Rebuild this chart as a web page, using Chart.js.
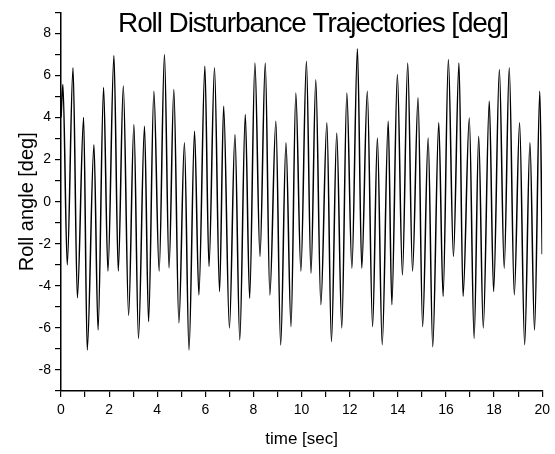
<!DOCTYPE html>
<html>
<head>
<meta charset="utf-8">
<script src="https://cdn.jsdelivr.net/npm/chart.js@4"></script>
<style>
  html, body { margin: 0; padding: 0; background: #ffffff; }
  #c { display: block; }
</style>
</head>
<body>
<canvas id="c" width="555" height="454"></canvas>
<script>
const chartTitle = "Roll Disturbance Trajectories [deg]";
const xAxisTitle = "time [sec]";
const yAxisTitle = "Roll angle [deg]";

const xTickValues = [0, 2, 4, 6, 8, 10, 12, 14, 16, 18, 20];
const yTickValues = [-8, -6, -4, -2, 0, 2, 4, 6, 8];

const timeSec = [0, 0.08, 0.26, 0.50, 0.68, 0.94, 1.09, 1.37, 1.54, 1.77, 1.95,
  2.20, 2.38, 2.59, 2.81, 3.03, 3.22, 3.47, 3.64, 3.86, 4.08,
  4.30, 4.49, 4.69, 4.90, 5.13, 5.32, 5.55, 5.73, 5.98, 6.15,
  6.38, 6.59, 6.76, 7.00, 7.23, 7.43, 7.66, 7.84, 8.06, 8.27,
  8.49, 8.68, 8.93, 9.13, 9.35, 9.56, 9.76, 9.97, 10.20, 10.39,
  10.59, 10.80, 11.05, 11.24, 11.46, 11.67, 11.88, 12.09, 12.32, 12.50,
  12.73, 12.95, 13.15, 13.35, 13.60, 13.75, 13.98, 14.19, 14.41, 14.61,
  14.84, 15.03, 15.26, 15.45, 15.70, 15.88, 16.10, 16.31, 16.54, 16.71,
  16.97, 17.17, 17.36, 17.55, 17.80, 17.98, 18.22, 18.42, 18.63, 18.84,
  19.06, 19.27, 19.49, 19.68, 19.90, 20.0];

const rollDeg = [4.0, 5.57, -3.0, 6.37, -4.57, 4.0, -7.05, 2.71, -6.1, 5.43, -3.3,
  6.95, -3.3, 5.5, -5.4, 3.67, -6.5, 3.59, -5.7, 5.25, -3.3,
  7.0, -3.15, 5.33, -5.76, 2.8, -7.05, 3.35, -4.43, 6.44, -3.08,
  6.37, -4.27, 4.54, -6.0, 3.19, -6.57, 4.14, -4.59, 6.6, -2.6,
  6.6, -4.43, 3.82, -6.81, 2.8, -5.94, 5.17, -3.3, 6.68, -3.4,
  5.8, -4.9, 3.75, -6.65, 3.27, -6.0, 5.17, -3.16, 7.27, -3.16,
  5.25, -5.94, 3.03, -6.8, 3.82, -4.9, 6.05, -3.48, 6.6, -3.3,
  4.94, -5.94, 3.03, -6.9, 3.75, -4.5, 6.76, -2.6, 6.6, -4.5,
  3.98, -6.5, 3.11, -6.0, 4.78, -4.27, 6.29, -3.16, 6.37, -4.43,
  3.75, -6.8, 2.8, -6.1, 5.25, -2.5];

const points = timeSec.map((t, i) => ({ x: t, y: rollDeg[i] }));
const FONT = '"Liberation Sans", Arial, Helvetica, sans-serif';

const titlePlugin = {
  id: 'customTitle',
  afterDraw(chart) {
    const ctx = chart.ctx;
    ctx.save();
    ctx.font = '28px ' + FONT;
    try { ctx.letterSpacing = '-1.1px'; } catch (e) {}
    ctx.fillStyle = '#000';
    ctx.textAlign = 'center';
    ctx.textBaseline = 'alphabetic';
    ctx.fillText(chartTitle, 313, 32);
    ctx.restore();
  }
};

new Chart(document.getElementById('c'), {
  type: 'line',
  data: {
    datasets: [{
      data: points,
      borderColor: '#000000',
      borderWidth: 1.5,
      pointRadius: 0,
      fill: false,
      cubicInterpolationMode: 'monotone'
    }]
  },
  options: {
    responsive: false,
    animation: false,
    devicePixelRatio: 1,
    layout: { padding: { top: 12, right: 12, left: 0, bottom: 0 } },
    plugins: { legend: { display: false }, tooltip: { enabled: false }, title: { display: false } },
    scales: {
      x: {
        type: 'linear',
        min: 0, max: 20,
        afterFit(scale) { scale.height = 63; },
        border: { display: true, color: '#000', width: 1.5 },
        grid: { drawOnChartArea: false, drawTicks: true, tickLength: 6, color: '#000', lineWidth: 1.2 },
        ticks: {
          stepSize: 1, autoSkip: false, maxRotation: 0, padding: 5,
          color: '#000', font: { family: FONT, size: 14 },
          callback: (v) => xTickValues.includes(v) ? String(v) : ''
        },
        title: { display: true, text: xAxisTitle, color: '#000',
                 font: { family: FONT, size: 17 }, padding: { top: 0, bottom: 4 } }
      },
      y: {
        min: -9, max: 9,
        afterFit(scale) { scale.width = 61; },
        border: { display: true, color: '#000', width: 1.5 },
        grid: { drawOnChartArea: false, drawTicks: true, tickLength: 6, color: '#000', lineWidth: 1.2 },
        ticks: {
          stepSize: 1, autoSkip: false, padding: 4,
          color: '#000', font: { family: FONT, size: 14 },
          callback: (v) => yTickValues.includes(v) ? String(v) : ''
        },
        title: { display: true, text: yAxisTitle, color: '#000',
                 font: { family: FONT, size: 20 }, padding: { top: 15, bottom: 0 } }
      }
    }
  },
  plugins: [titlePlugin]
});
</script>
</body>
</html>
